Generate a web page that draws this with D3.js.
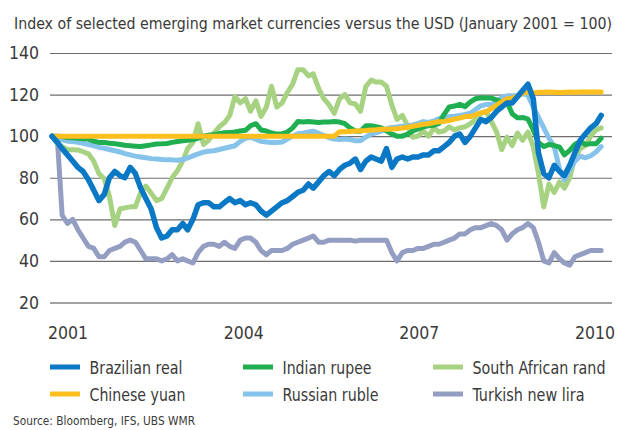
<!DOCTYPE html>
<html>
<head>
<meta charset="utf-8">
<script src="https://cdn.jsdelivr.net/npm/d3@7"></script>
<style>
  html, body { margin: 0; padding: 0; background: #fff; }
  svg { display: block; }
  text { font-family: "DejaVu Sans Condensed", "Liberation Sans Narrow", "Roboto", sans-serif; fill: #3a3a3a; }
</style>
</head>
<body>
<svg id="chart" width="633" height="430"></svg>
<script>
// ---- Data (index, January 2001 = 100), monthly Jan 2001 .. Oct 2009 ----
const titleText = "Index of selected emerging market currencies versus the USD (January 2001 = 100)";
const sourceText = "Source: Bloomberg, IFS, UBS WMR";
const yTicks = [20, 40, 60, 80, 100, 120, 140];
const xTickLabels = ["2001", "2004", "2007", "2010"];
const seriesNames = ["Brazilian real", "Indian rupee", "South African rand", "Chinese yuan", "Russian ruble", "Turkish new lira"];

const brazilianReal = [
  100, 97, 94, 91, 88, 85, 83, 79, 74, 69, 72, 80,
  83, 81, 80, 85, 82, 75, 70, 65, 56, 51, 52, 55,
  55, 58, 55, 60, 67, 68, 68, 66, 66, 68, 70, 68,
  69, 67, 68, 67, 64, 62, 64, 66, 68, 69, 71, 73,
  74, 77, 75, 78, 81, 83, 81, 84, 86, 87, 89, 84,
  88, 90, 89, 88, 94, 85, 89, 90, 89, 90, 90, 91,
  91, 93, 93, 95, 97, 100, 101, 97, 100, 104, 108, 107,
  109, 112, 114, 116, 116, 119, 122, 125, 118, 92, 82, 80,
  86, 83, 81, 86, 92, 98, 101, 104, 106, 110
];
const indianRupee = [
  100, 100, 99.8, 99.4, 99.2, 99, 98.8, 98.6, 97.6, 97, 97, 96.6,
  96.4, 96, 95.6, 95.4, 95.2, 95, 95.4, 95.8, 96.2, 96.3, 96.5, 97,
  97.4, 97.8, 98, 98.4, 99, 100, 100.5, 100.8, 101.2, 101.6, 101.8, 102,
  102.5, 102.8, 105, 106, 103, 102.5, 101.5, 101, 101.2, 102, 104, 107,
  106.8, 107, 106.8, 106.6, 106.8, 106.8, 107, 106.8, 106, 104, 102.5, 102.4,
  105, 105, 104.6, 104, 102.5, 101, 100, 100, 101, 102.5, 103.5, 104.5,
  105, 105.3, 106, 110.5, 114, 114.5, 115.3, 114.2, 116.5, 118, 118.5, 118.3,
  118.3, 117.5, 116.5, 116.5, 110.8, 108.8, 109, 108.2, 103, 97, 95, 96,
  95.5, 94.7, 91, 93.2, 96, 97.5, 96, 96.4, 96.3, 99
];
const southAfricanRand = [
  100, 96.5, 95, 93.5, 93.5, 93.4, 92.5, 91.5, 88, 82, 79.5, 71,
  57, 65, 65.5, 66, 66, 73, 76, 72.6, 69, 70, 75, 80,
  83.5, 88, 94, 97, 106, 96, 98, 101.5, 104.5, 106.5, 110, 119,
  116, 118, 112, 117, 109.5, 114, 124, 114, 116, 121, 125, 132,
  132, 129, 130, 123, 118, 115, 111, 118, 120, 116, 115.5, 112,
  124, 127, 126, 126, 124, 115, 108, 110, 105, 99.5, 100, 102.5,
  100, 104, 102, 102.5, 104.5, 103, 104, 104.5, 106, 108, 111, 112,
  107, 102, 93.5, 99.5, 95.5, 101.5, 98, 102, 95, 82, 66, 77,
  73, 78, 75, 80, 90, 94, 95.5, 100, 103, 104
];
const chineseYuan = [
  100, 100, 100, 100, 100, 100, 100, 100, 100, 100, 100, 100,
  100, 100, 100, 100, 100, 100, 100, 100, 100, 100, 100, 100,
  100, 100, 100, 100, 100, 100, 100, 100, 100, 100, 100, 100,
  100, 100, 100, 100, 100, 100, 100, 100, 100, 100, 100, 100,
  100, 100, 100, 100, 100, 100, 100, 102.1, 102.1, 102.3, 102.5, 102.6,
  102.7, 103.0, 103.1, 103.3, 103.3, 103.5, 103.6, 103.9, 104.3, 104.8, 105.2, 105.7,
  106.0, 106.6, 106.9, 107.1, 107.5, 108.2, 108.7, 109.4, 109.4, 110.3, 111.2, 111.7,
  113.3, 114.8, 116.5, 117.9, 118.3, 119.2, 120.7, 121.2, 120.8, 121.1, 121.1, 121.2,
  121.1, 121.0, 121.1, 121.2, 121.1, 121.2, 121.2, 121.2, 121.2, 121.2
];
const russianRuble = [
  100, 98.8, 98.2, 97.6, 97.4, 97, 96.6, 96, 95.4, 94.6, 94.2, 93.6,
  93, 92.4, 91.6, 91, 90.4, 90, 89.6, 89.2, 89, 88.8, 88.6, 88.6,
  88.4, 88.8, 89.5, 90.5, 91.5, 92.3, 92.8, 93, 93.6, 94.2, 94.8, 95.4,
  97.5, 99, 99.5, 98.5, 97.5, 97.2, 97, 97, 97.2, 98.6, 100, 101.2,
  101.4, 102, 102.4, 101.4, 100.4, 99.2, 98.6, 98.4, 98.6, 98.4, 97.8, 97.8,
  99.6, 101, 101.6, 102.4, 103.6, 104.2, 104.4, 104.8, 105, 105.4, 106.2, 107,
  106.6, 107.4, 108.4, 109, 109.4, 109.6, 110, 110.4, 111, 112.8, 114.6, 115.2,
  115.4, 116.2, 118.6, 119.4, 119.4, 119.6, 120.6, 119.6, 114, 109, 104, 99,
  95, 84, 79, 84, 88, 90.4, 89.6, 90.6, 92.4, 95
];
const turkishNewLira = [
  100, 99, 62, 58, 60, 55, 51, 47, 46, 42, 42, 45,
  46, 47, 49, 50, 49, 45, 41, 41, 41, 40, 41, 43,
  40, 41, 40, 39, 44, 47, 48, 48, 47, 49, 47, 46,
  50, 51, 51, 49, 45, 43, 45, 45, 45, 46, 48, 49,
  50, 51, 52, 49, 49, 50, 50, 50, 50, 50, 49.5, 50,
  50, 50, 50, 50, 50, 44, 40, 44, 45, 45, 46, 46,
  47, 48, 48, 49, 50, 51, 53, 53, 55, 56, 56, 57,
  58, 57, 55, 50, 53, 55, 56, 58, 56, 49, 40, 39,
  44, 41, 39, 38, 42, 43, 44, 45, 45, 45
];

const months = d3.timeMonth.range(new Date(2001, 0, 1), new Date(2009, 10, 1));

const colors = {
  "Brazilian real": "#0a78c4",
  "Indian rupee": "#1fae50",
  "South African rand": "#a6d282",
  "Chinese yuan": "#fcbf1e",
  "Russian ruble": "#85c3ea",
  "Turkish new lira": "#949ec2"
};
const valuesByName = {
  "Brazilian real": brazilianReal,
  "Indian rupee": indianRupee,
  "South African rand": southAfricanRand,
  "Chinese yuan": chineseYuan,
  "Russian ruble": russianRuble,
  "Turkish new lira": turkishNewLira
};
const drawOrder = ["Turkish new lira", "South African rand", "Russian ruble", "Indian rupee", "Chinese yuan", "Brazilian real"];

// ---- Layout (positions/sizes kept separate from data) ----
const svg = d3.select("#chart");
const x = d3.scaleTime().domain([new Date(2001, 0, 1), new Date(2010, 0, 1)]).range([52, 617]);
const y = d3.scaleLinear().domain([20, 140]).range([302.5, 53]);
const gridX0 = 50, gridX1 = 612;

// Title
svg.append("text")
  .attr("x", 14).attr("y", 29)
  .attr("font-size", 15.5)
  .attr("textLength", 598).attr("lengthAdjust", "spacingAndGlyphs")
  .text(titleText);

// Gridlines + y labels
const yAxis = d3.axisLeft(y).tickValues(yTicks).tickSize(-(gridX1 - gridX0)).tickPadding(11);
const gy = svg.append("g").attr("transform", `translate(${gridX0},0)`).call(yAxis);
gy.select(".domain").remove();
gy.selectAll(".tick line").attr("stroke", d => d === 20 ? "#444" : "#6e6e6e").attr("stroke-width", 1.2);
gy.selectAll(".tick text").attr("font-size", 17.5).attr("fill", "#3a3a3a")
  .attr("font-family", "\"DejaVu Sans Condensed\", sans-serif");

// x labels
const xl = d3.scalePoint().domain(xTickLabels).range([68, 595]);
svg.append("g").selectAll("text").data(xTickLabels).join("text")
  .attr("x", d => xl(d)).attr("y", 339)
  .attr("text-anchor", "middle").attr("font-size", 17.5)
  .text(d => d);

// Lines
const line = d3.line()
  .x((d, i) => x(months[i]))
  .y(d => y(d))
  .curve(d3.curveLinear);

svg.append("g").selectAll("path").data(drawOrder).join("path")
  .attr("d", name => line(valuesByName[name]))
  .attr("fill", "none")
  .attr("stroke", name => colors[name])
  .attr("stroke-width", name => name === "Brazilian real" ? 5.5 : 5)
  .attr("stroke-linejoin", "round")
  .attr("stroke-linecap", "round");

// Legend
const legendCols = [50, 243, 433];
const legendRows = [367, 394];
const legendTextWidths = [93, 89, 133, 96, 96, 112];
const lg = svg.append("g").selectAll("g").data(seriesNames).join("g")
  .attr("transform", (d, i) => `translate(${legendCols[i % 3]},${legendRows[Math.floor(i / 3)]})`);
lg.append("rect").attr("x", 0).attr("y", -2.5).attr("width", 30).attr("height", 5)
  .attr("fill", d => colors[d]);
lg.append("text").attr("x", 39.5).attr("y", 6.5).attr("font-size", 17.5)
  .attr("textLength", (d, i) => legendTextWidths[i]).attr("lengthAdjust", "spacingAndGlyphs")
  .text(d => d);

// Source
svg.append("text").attr("x", 13).attr("y", 425).attr("font-size", 12.5).attr("fill", "#555")
  .attr("textLength", 182).attr("lengthAdjust", "spacingAndGlyphs")
  .text(sourceText);
</script>
</body>
</html>
